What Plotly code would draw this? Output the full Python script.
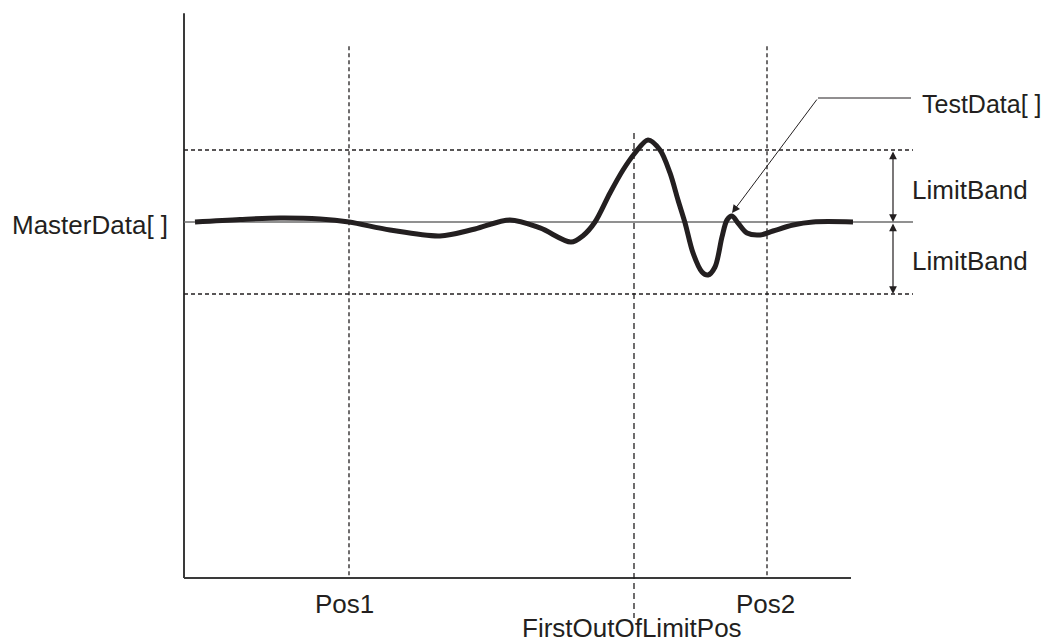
import plotly.graph_objects as go

INK = "#231f20"
AXIS_COLOR = "#3a3a3a"
MASTER_COLOR = "#6d6d6d"
FONT = dict(family="Liberation Sans, Arial, sans-serif", size=26, color=INK)
DASH = "4px,3px"

# x in position units from the origin, y in LimitBand units around MasterData
TEST_X = [12, 57, 97, 137, 166, 207, 257, 292, 327, 357, 388, 400, 412, 427, 440, 452,
          465, 477, 487, 495, 502, 510, 519, 525, 532, 539, 544, 549, 555, 564, 577,
          590, 610, 630, 670]
TEST_Y = [0, 0.035, 0.056, 0.042, 0, -0.111, -0.194, -0.097, 0.028, -0.083, -0.278,
          -0.19, 0, 0.403, 0.722, 0.958, 1.139, 1.0, 0.681, 0.306, -0.01, -0.43, -0.694,
          -0.736, -0.625, -0.208, 0.028, 0.083, -0.014, -0.153, -0.18, -0.125, -0.042, 0, 0]

LIMIT_BAND = 1.0
MASTER = 0.0
POS1 = 166
POS2 = 584
FIRST_OUT = 451
X_END = 668
GUIDE_END = 730
BAND_ARROW_X = 710
AXIS_TOP = 2.9
AXIS_BOTTOM = -4.944
TEST_TIP = (549, 0.125)
TEST_ELBOW = (635, 1.722)

fig = go.Figure()

fig.add_trace(
    go.Scatter(
        x=TEST_X,
        y=TEST_Y,
        mode="lines",
        line=dict(color=INK, width=5, shape="spline", smoothing=0.9),
        hoverinfo="skip",
    )
)


def line(x0, y0, x1, y1, color=INK, width=1, dash="solid"):
    fig.add_shape(
        type="line", xref="x", yref="y", x0=x0, y0=y0, x1=x1, y1=y1,
        line=dict(color=color, width=width, dash=dash), layer="below",
    )


# axes
line(1, AXIS_TOP, 1, AXIS_BOTTOM, AXIS_COLOR, 2)
line(1, AXIS_BOTTOM, X_END, AXIS_BOTTOM, AXIS_COLOR, 2)

# master and limit lines
line(1, MASTER, GUIDE_END, MASTER, MASTER_COLOR, 1.5)
line(1, LIMIT_BAND, GUIDE_END, LIMIT_BAND, INK, 1.3, DASH)
line(1, -LIMIT_BAND, GUIDE_END, -LIMIT_BAND, INK, 1.3, DASH)

# position markers
line(POS1, 2.44, POS1, AXIS_BOTTOM, INK, 1.3, DASH)
line(POS2, 2.44, POS2, AXIS_BOTTOM, INK, 1.3, DASH)
line(FIRST_OUT, 1.236, FIRST_OUT, -5.5, INK, 1.3, "6px,4px")

# leader for TestData
line(TEST_ELBOW[0], TEST_ELBOW[1], 728, TEST_ELBOW[1], INK, 1)
fig.add_annotation(
    x=TEST_TIP[0], y=TEST_TIP[1], ax=TEST_ELBOW[0], ay=TEST_ELBOW[1],
    axref="x", ayref="y", text="", showarrow=True,
    arrowhead=2, arrowsize=1.6, arrowwidth=1, arrowcolor=INK, standoff=0,
)

# limit band arrows
for y0, y1 in [(LIMIT_BAND, MASTER), (MASTER, -LIMIT_BAND)]:
    fig.add_annotation(
        x=BAND_ARROW_X, y=y1, ax=BAND_ARROW_X, ay=y0,
        axref="x", ayref="y", text="", showarrow=True,
        arrowhead=2, arrowside="end+start", arrowsize=1.3, arrowwidth=1.2,
        arrowcolor=INK, standoff=0, startstandoff=0,
    )

labels = [
    ("MasterData[ ]", -14, -0.04, "right", "middle", 26),
    ("TestData[ ]", 738, 1.64, "left", "middle", 25),
    ("LimitBand", 728, 0.45, "left", "middle", 26),
    ("LimitBand", 728, -0.54, "left", "middle", 26),
    ("Pos1", POS1 - 5, -5.3, "center", "middle", 26),
    ("Pos2", POS2 - 2, -5.3, "center", "middle", 26),
    ("FirstOutOfLimitPos", FIRST_OUT - 2, -5.86, "center", "bottom", 26),
]
for text, x, y, xanchor, yanchor, size in labels:
    fig.add_annotation(
        x=x, y=y, text=text, showarrow=False, xanchor=xanchor, yanchor=yanchor,
        font=dict(FONT, size=size), borderpad=0,
    )

# the page body adds an 8px margin, so the figure covers page pixels 8..1049 x 8..644
fig.update_layout(
    width=1041,
    height=636,
    margin=dict(l=0, r=0, t=0, b=0),
    paper_bgcolor="white",
    plot_bgcolor="white",
    showlegend=False,
    xaxis=dict(range=[-175, 866], visible=False, fixedrange=True),
    yaxis=dict(range=[-5.861, 2.972], visible=False, fixedrange=True),
)

fig.write_html("out.html")
